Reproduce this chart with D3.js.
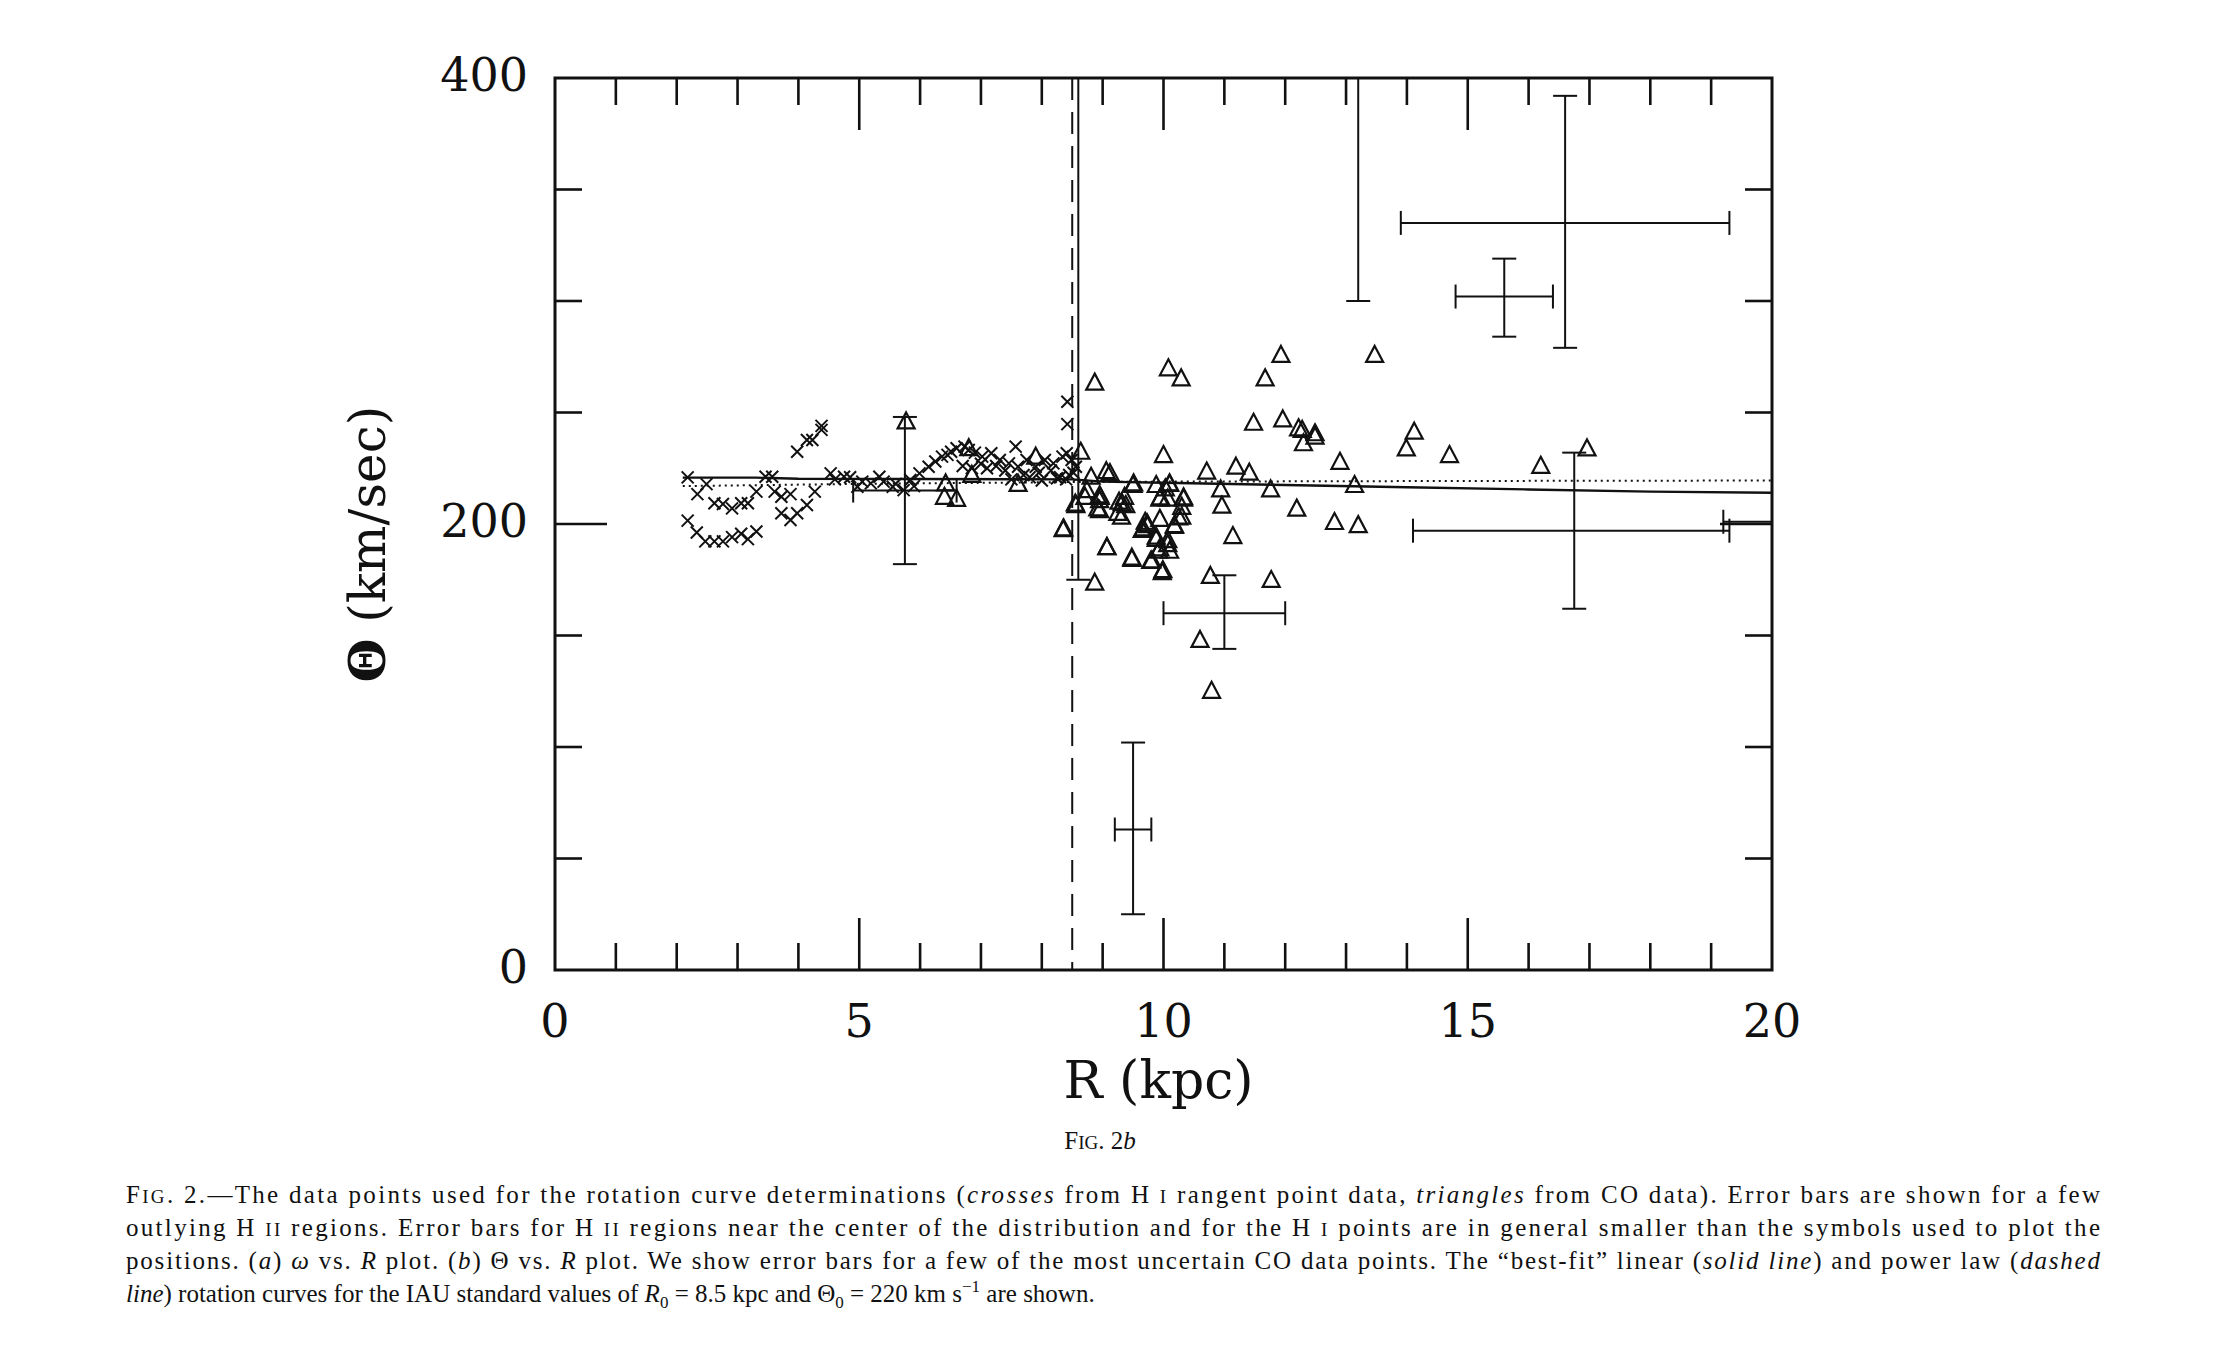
<!DOCTYPE html>
<html>
<head>
<meta charset="utf-8">
<script src="https://cdn.jsdelivr.net/npm/d3@7"></script>
<style>
  body { margin: 0; background: #fff; }
  svg { display: block; }
  .tick-label { font-family: "DejaVu Serif", serif; font-size: 46px; fill: #111; }
  .caption { font-family: "Liberation Serif", "Times New Roman", serif; font-size: 25px; fill: #111; }
</style>
</head>
<body>
<svg width="2240" height="1358"></svg>
<script>
// H I tangent point data (crosses)
const hiR = [2.18,2.49,2.34,2.62,2.76,2.91,3.06,3.17,3.31,3.46,3.57,3.61,3.72,3.87,3.72,3.87,3.98,4.14,4.27,
  2.18,2.33,2.47,2.62,2.76,2.91,3.06,3.17,3.31,3.98,4.14,4.23,4.38,4.38,
  4.53,4.75,4.97,5.19,5.33,5.55,5.73,5.84,5.99,6.14,6.25,6.36,6.45,6.51,6.6,6.73,6.80,6.9,7.02,7.17,7.31,7.46,7.61,7.57,
  7.75,7.90,8.05,8.19,8.34,8.41,8.49,8.56,7.5,7.8,8.0,8.25,8.45,6.7,6.85,7.0,7.1,7.25,7.4,7.7,7.95,8.15,8.3,8.4,8.52,
  4.6,4.85,5.05,5.4,5.6,5.9,8.42,8.42];
const hiV = [220.9,217.9,213.4,209.3,209.0,207,209.3,209.3,214.5,221.2,221.2,214.5,212.2,213.4,204.8,201.8,204.8,208.5,214.5,
  201.5,196.2,192.2,192.2,192.2,194.1,195.6,193.2,196.6,232.4,237.7,237.7,242.2,244,
  222.7,221.2,216.7,218.2,221.2,216.7,215.2,219.7,222.7,225.7,228,230.2,231,232.4,234,234.7,233.2,232,230.2,231.7,228.7,227.2,225.7,234.7,
  228.7,225.7,228.7,227.2,230.2,231.7,228.7,225.7,220,221,219.5,220.5,222,226,225,227,225,226,224,222,223,224,221,220,223,
  220,221,219,219,218,217,254.8,244.8];

// CO data (triangles)
const coR = [5.77,6.42,6.40,6.60,6.80,6.85,7.61,7.90,8.64,8.36,8.56,8.71,8.87,8.81,8.96,8.92,9.06,9.12,9.25,9.32,9.36,
  9.07,9.48,9.51,9.67,9.70,9.74,9.81,9.88,9.92,9.99,10.0,9.95,10.03,10.1,10.07,10.1,10.18,10.25,10.33,10.08,10.29,
  11.67,11.93,13.47,11.48,11.96,12.22,12.28,12.49,12.49,12.30,14.12,13.99,14.7,16.2,16.96,10.71,11.19,11.41,12.9,13.14,
  9.50,9.88,10.10,10.94,11.76,8.74,8.95,8.95,8.55,9.27,9.38,9.94,10.07,10.33,8.95,9.31,10.3,10.3,10.96,12.19,12.81,13.2,
  9.94,10.18,9.73,9.65,9.88,10.07,9.94,11.14,9.07,9.48,9.79,9.98,8.87,10.77,11.77,8.35,10.6,10.79];
const coV = [246,218.2,212.2,211.3,234,222,218,230.2,232.4,198,208.5,212.2,263.4,221.2,212.2,207,223.7,222.8,205,209.3,212.2,
  189.6,184.4,218.2,198,201,199.5,183.7,193.3,188.1,179.3,230.9,212,216,218,191,188,199.5,203,212,269.8,265.3,
  265.3,275.8,275.8,245.4,246.9,242.9,242.2,240.7,239.2,236.2,241.4,233.9,230.9,226.1,233.9,223.5,225.7,223,227.9,217.5,
  217.5,217.5,218.2,215.5,215.5,215.2,212.9,210.7,209.2,210,208.5,211.4,211.4,211.4,206.2,203.3,207.7,203.3,208.2,206.9,200.9,199.5,
  202.3,199.1,200.3,197.3,194.3,192.8,189.1,194.6,189.6,184.9,183.4,178.4,173.7,176.7,174.9,197.7,148.0,125.2];

// error bars: centre, x range, y range
const ebR   = [5.75, 8.6, 13.2, 15.6, 16.6, 16.75, 11.0, 9.5, 19.5];
const ebV   = [215, 260, 330, 302, 335, 197, 160, 63, 201];
const ebXlo = [4.9, 8.6, 13.2, 14.8, 13.9, 14.1, 10.0, 9.2, 19.2];
const ebXhi = [6.6, 8.6, 13.2, 16.4, 19.3, 19.3, 12.0, 9.8, 20.5];
const ebYlo = [182, 175, 300, 284, 279, 162, 144, 25, 201];
const ebYhi = [248, 420, 420, 319, 392, 232, 177, 102, 201];

// best-fit curves
const linR = [2.1, 3.3, 4.0, 8.5, 9.0, 10, 12, 14, 16, 18, 20];
const linV = [220.8, 220.8, 220.3, 220, 219, 218.5, 217.5, 216.5, 215.5, 214.5, 214];
const powR = [2.1, 5, 8.5, 10, 15, 20];
const powV = [217, 218, 218.8, 219, 219.3, 219.5];

const R0 = 8.5;
const xTicks = [0, 5, 10, 15, 20];
const yTicks = [0, 200, 400];

const svg = d3.select("svg");
const pLeft = 555, pRight = 1772, pTop = 78, pBottom = 970;
const x = d3.scaleLinear().domain([0, 20]).range([pLeft, pRight]);
const y = d3.scaleLinear().domain([0, 400]).range([pBottom, pTop]);

svg.append("clipPath").attr("id", "clip")
  .append("rect").attr("x", pLeft).attr("y", pTop).attr("width", pRight - pLeft).attr("height", pBottom - pTop);

const plot = svg.append("g").attr("clip-path", "url(#clip)");
const ink = "#111";

// frame
svg.append("rect").attr("x", pLeft).attr("y", pTop).attr("width", pRight - pLeft).attr("height", pBottom - pTop)
  .attr("fill", "none").attr("stroke", ink).attr("stroke-width", 3);

// ticks, pointing inward on all four sides
const tk = svg.append("g").attr("stroke", ink).attr("stroke-width", 2.6);
d3.range(1, 20).forEach(v => {
  const len = v % 5 === 0 ? 52 : 27;
  tk.append("line").attr("x1", x(v)).attr("x2", x(v)).attr("y1", pBottom).attr("y2", pBottom - len);
  tk.append("line").attr("x1", x(v)).attr("x2", x(v)).attr("y1", pTop).attr("y2", pTop + len);
});
d3.range(50, 400, 50).forEach(v => {
  const len = v % 200 === 0 ? 52 : 27;
  tk.append("line").attr("x1", pLeft).attr("x2", pLeft + len).attr("y1", y(v)).attr("y2", y(v));
  tk.append("line").attr("x1", pRight).attr("x2", pRight - len).attr("y1", y(v)).attr("y2", y(v));
});

// tick labels
svg.selectAll(".xl").data(xTicks).join("text").attr("class", "tick-label xl")
  .attr("x", d => x(d)).attr("y", 1037).attr("text-anchor", "middle").text(d => d);
svg.selectAll(".yl").data(yTicks).join("text").attr("class", "tick-label yl")
  .attr("x", 528).attr("y", d => y(d) + 1).attr("dominant-baseline", "middle").attr("text-anchor", "end").text(d => d);

// axis titles
svg.append("text").attr("class", "tick-label").attr("x", x(10) - 5).attr("y", 1098)
  .attr("text-anchor", "middle").style("font-size", "52px").text("R (kpc)");
svg.append("text").attr("class", "tick-label")
  .attr("transform", `translate(385,${(pTop + pBottom) / 2 + 20}) rotate(-90)`)
  .attr("text-anchor", "middle").style("font-size", "50px")
  .html('<tspan font-weight="bold">Θ</tspan> (km/sec)');

// dashed R0 line
plot.append("line").attr("x1", x(R0)).attr("x2", x(R0)).attr("y1", pTop).attr("y2", pBottom)
  .attr("stroke", ink).attr("stroke-width", 2).attr("stroke-dasharray", "22,12");

// curves
const line = d3.line().x(d => x(d[0])).y(d => y(d[1]));
plot.append("path").datum(d3.zip(linR, linV)).attr("d", line)
  .attr("fill", "none").attr("stroke", ink).attr("stroke-width", 2.4);
plot.append("path").datum(d3.zip(powR, powV)).attr("d", line)
  .attr("fill", "none").attr("stroke", ink).attr("stroke-width", 2).attr("stroke-dasharray", "2,4");

// error bars
const eb = plot.append("g").attr("stroke", ink).attr("stroke-width", 2).attr("fill", "none");
const cap = 12;
ebR.forEach((r, i) => {
  if (ebYhi[i] > ebYlo[i]) {
    eb.append("line").attr("x1", x(r)).attr("x2", x(r)).attr("y1", y(ebYlo[i])).attr("y2", y(ebYhi[i]));
    [ebYlo[i], ebYhi[i]].forEach(v => eb.append("line")
      .attr("x1", x(r) - cap).attr("x2", x(r) + cap).attr("y1", y(v)).attr("y2", y(v)));
  }
  if (ebXhi[i] > ebXlo[i]) {
    eb.append("line").attr("x1", x(ebXlo[i])).attr("x2", x(ebXhi[i])).attr("y1", y(ebV[i])).attr("y2", y(ebV[i]));
    [ebXlo[i], ebXhi[i]].forEach(v => eb.append("line")
      .attr("x1", x(v)).attr("x2", x(v)).attr("y1", y(ebV[i]) - cap).attr("y2", y(ebV[i]) + cap));
  }
});

// crosses
const cs = 6;
plot.append("g").selectAll("path").data(d3.zip(hiR, hiV)).join("path")
  .attr("d", d => {
    const px = x(d[0]), py = y(d[1]);
    return `M${px - cs},${py - cs}L${px + cs},${py + cs}M${px - cs},${py + cs}L${px + cs},${py - cs}`;
  })
  .attr("stroke", ink).attr("stroke-width", 2);

// triangles
plot.append("g").selectAll("path").data(d3.zip(coR, coV)).join("path")
  .attr("d", d => {
    const px = x(d[0]), py = y(d[1]);
    return `M${px},${py - 9}L${px + 8.5},${py + 7}L${px - 8.5},${py + 7}Z`;
  })
  .attr("fill", "none").attr("stroke", ink).attr("stroke-width", 2.2);

// figure label and caption
svg.append("text").attr("class", "caption").attr("x", 1100).attr("y", 1149).attr("text-anchor", "middle")
  .html('F<tspan font-size="19">IG</tspan>. 2<tspan font-style="italic">b</tspan>');

const capLines = [
  'F<tspan font-size="19">IG</tspan>. 2.—The data points used for the rotation curve determinations (<tspan font-style="italic">crosses</tspan> from H <tspan font-size="19">I</tspan> rangent point data, <tspan font-style="italic">triangles</tspan> from CO data). Error bars are shown for a few',
  'outlying H <tspan font-size="19">II</tspan> regions. Error bars for H <tspan font-size="19">II</tspan> regions near the center of the distribution and for the H <tspan font-size="19">I</tspan> points are in general smaller than the symbols used to plot the',
  'positions. (<tspan font-style="italic">a</tspan>) <tspan font-style="italic">ω</tspan> vs. <tspan font-style="italic">R</tspan> plot. (<tspan font-style="italic">b</tspan>) Θ vs. <tspan font-style="italic">R</tspan> plot. We show error bars for a few of the most uncertain CO data points. The “best-fit” linear (<tspan font-style="italic">solid line</tspan>) and power law (<tspan font-style="italic">dashed</tspan>',
  '<tspan font-style="italic">line</tspan>) rotation curves for the IAU standard values of <tspan font-style="italic">R</tspan><tspan font-size="17" dy="6">0</tspan><tspan dy="-6"> = 8.5 kpc and Θ</tspan><tspan font-size="17" dy="6">0</tspan><tspan dy="-6"> = 220 km s</tspan><tspan font-size="17" dy="-10">−1</tspan><tspan dy="10"> are shown.</tspan>'
];
const capY = [1203, 1236, 1269, 1302];
capLines.forEach((h, i) => {
  const t = svg.append("text").attr("class", "caption").attr("x", 126).attr("y", capY[i]).html(h);
  if (i < 3) t.attr("textLength", 2100 - 126).attr("lengthAdjust", "spacing");
});
</script>
</body>
</html>
